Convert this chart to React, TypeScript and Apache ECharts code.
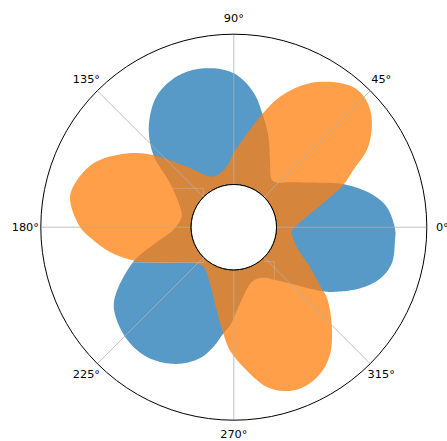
import React, { useEffect, useRef } from "react";
import * as echarts from "echarts";

// Blue curve samples: polar angle (degrees) and radius (axis units, 0 = inner ring)
const blueAngles = [
  7.6, 14.0, 21.5, 30.0, 40.2, 46.2, 51.3, 61.7, 69.1, 75.0, 81.9, 90.2, 100.8,
  110.8, 120.6, 130.2, 138.1, 145.5, 159.1, 168.6, 182.7, 189.8, 199.1, 211.4,
  218.4, 228.2, 237.4, 247.3, 255.5, 260.3, 264.4, 267.8, 274.6, 288.1, 298.9,
  308.9, 324.0, 327.0, 334.2, 340.7, 347.1, 355.5, 359.0,
];
const blueRadii = [
  3.71, 3.25, 2.49, 1.55, 0.89, 0.64, 0.6, 1.12, 1.81, 2.38, 3.13, 3.71, 3.96,
  3.94, 3.63, 2.96, 2.17, 1.15, 0.5, 0.35, 0.6, 1.08, 2.12, 3.24,
  3.55, 3.76, 3.76, 3.51, 3.08, 2.62, 2.13, 1.85, 1.13, 0.5, 0.5,
  0.85, 2.2, 2.53, 3.25, 3.74, 3.97, 3.96, 3.95,
];

// Orange curve samples
const orangeAngles = [
  8.2, 16.3, 21.1, 25.6, 30.9, 38.7, 44.5, 49.6, 57.5, 63.9, 70.5, 76.1, 85.8,
  90.4, 96.7, 112.0, 127.9, 138.1, 145.4, 155.5, 165.8, 170.6, 180.0, 185.3,
  191.3, 198.3, 205.9, 221.5, 232.6, 247.1, 258.4, 264.4, 268.2, 275.1, 281.6,
  287.9, 293.5, 300.5, 307.3, 315.4, 323.1, 325.0, 332.4, 342.5, 355.3, 358.9,
];
const orangeRadii = [
  1.03, 1.8, 2.48, 2.99, 3.79, 4.45, 4.7, 4.7, 4.32, 3.85, 3.18, 2.43, 1.37,
  1.04, 0.61, 0.4, 1.13, 2.17, 2.9, 3.71, 4.09, 4.1, 3.69, 3.27,
  2.78, 2.1, 1.31, 0.38, 0.24, 0.62, 1.41, 2.14, 2.68, 3.36, 4.0,
  4.31, 4.38, 4.24, 3.87, 3.15, 2.44, 2.15, 1.44, 0.78, 0.51, 0.57,
];

// Angular ticks and their labels
const thetaTicks = [0, 45, 90, 135, 180, 225, 270, 315];
const thetaLabels = ["0°", "45°", "90°", "135°", "180°", "225°", "270°", "315°"];

const RADIUS_MAX = 5;

const W = 447;
const H = 441;
const CX = 233.8;
const CY = 227.2;
const R_IN = 42.7;
const R_OUT = 193;
const LABEL_R = 208.5;

type Pt = number[];

// Closed centripetal Catmull-Rom outline through the projected sample points
function closedSpline(pts: Pt[], steps: number): Pt[] {
  const n = pts.length;
  const out: Pt[] = [];
  const knot = (a: Pt, b: Pt) => Math.max(Math.sqrt(Math.hypot(b[0] - a[0], b[1] - a[1])), 1e-4);
  const lerp = (a: Pt, b: Pt, ta: number, tb: number, t: number): Pt => {
    const wa = (tb - t) / (tb - ta);
    const wb = (t - ta) / (tb - ta);
    return [a[0] * wa + b[0] * wb, a[1] * wa + b[1] * wb];
  };
  for (let i = 0; i < n; i++) {
    const p0 = pts[(i - 1 + n) % n];
    const p1 = pts[i];
    const p2 = pts[(i + 1) % n];
    const p3 = pts[(i + 2) % n];
    const t0 = 0;
    const t1 = t0 + knot(p0, p1);
    const t2 = t1 + knot(p1, p2);
    const t3 = t2 + knot(p2, p3);
    for (let s = 0; s < steps; s++) {
      const t = t1 + ((t2 - t1) * s) / steps;
      const a1 = lerp(p0, p1, t0, t1, t);
      const a2 = lerp(p1, p2, t1, t2, t);
      const a3 = lerp(p2, p3, t2, t3, t);
      const b1 = lerp(a1, a2, t0, t2, t);
      const b2 = lerp(a2, a3, t1, t3, t);
      out.push(lerp(b1, b2, t1, t2, t));
    }
  }
  return out;
}

function petalSeries(angles: number[], radii: number[], color: string, z: number) {
  return {
    type: "custom",
    coordinateSystem: "polar",
    data: angles.map((a, i) => [radii[i], a]),
    encode: { radius: 0, angle: 1 },
    z,
    renderItem: (params: any, api: any) => {
      // the whole filled outline is emitted once, from the first item
      if (params.dataIndex !== 0) return null;
      const pts = angles.map((a, i) => {
        const c = api.coord([radii[i], a]);
        return [c[0], c[1]];
      });
      return {
        type: "polygon",
        shape: { points: closedSpline(pts, 14) },
        style: { fill: color, opacity: 0.75, stroke: "none" },
      };
    },
  };
}

export default function App() {
  const ref = useRef<HTMLDivElement>(null);

  useEffect(() => {
    if (!ref.current) return;
    const chart = echarts.init(ref.current, undefined, { renderer: "svg" });

    const labelEls = thetaTicks.map((deg, i) => {
      const rad = (deg * Math.PI) / 180;
      return {
        type: "text",
        x: CX + LABEL_R * Math.cos(rad),
        y: CY - LABEL_R * Math.sin(rad) - (deg === 270 ? 1.5 : 0),
        z: 50,
        style: {
          text: thetaLabels[i],
          fill: "#000",
          fontSize: 11.3,
          fontFamily: "DejaVu Sans",
          align: "center",
          verticalAlign: "middle",
        },
      };
    });

    // faint short grid fragments near the inner ring
    const gridBits = [
      [[171.5, 188.3], [203.3, 188.3], [203.3, 196.5]],
      [[132, 262.5], [203.3, 262.5], [203.3, 258]],
      [[264, 261.7], [274.3, 261.7], [274.3, 280.3]],
    ].map((pts) => ({
      type: "polyline",
      z: 40,
      shape: { points: pts },
      style: { stroke: "#c8c8c8", lineWidth: 0.7, fill: "none", opacity: 0.55 },
    }));

    chart.setOption({
      animation: false,
      polar: { center: [CX, CY], radius: [R_IN, R_OUT] },
      angleAxis: {
        type: "value",
        min: 0,
        max: 360,
        interval: 45,
        startAngle: 0,
        clockwise: false,
        z: 5,
        axisLine: { show: true, lineStyle: { color: "#000", width: 1 } },
        axisTick: { show: false },
        axisLabel: { show: false },
        splitLine: { show: true, lineStyle: { color: "#b0b0b0", width: 0.8 } },
      },
      radiusAxis: {
        type: "value",
        min: 0,
        max: RADIUS_MAX,
        axisLine: { show: false },
        axisTick: { show: false },
        axisLabel: { show: false },
        splitLine: { show: false },
      },
      series: [
        petalSeries(blueAngles, blueRadii, "#1f77b4", 2),
        petalSeries(orangeAngles, orangeRadii, "#ff7f0e", 3),
      ],
      graphic: [
        ...gridBits,
        {
          type: "circle",
          z: 60,
          shape: { cx: CX, cy: CY, r: R_IN },
          style: { fill: "#fff", stroke: "#000", lineWidth: 1 },
        },
        ...labelEls,
      ],
    });

    return () => chart.dispose();
  }, []);

  return (
    <div
      ref={ref}
      style={{ position: "fixed", left: 0, top: 0, width: W, height: H, background: "#fff" }}
    />
  );
}
